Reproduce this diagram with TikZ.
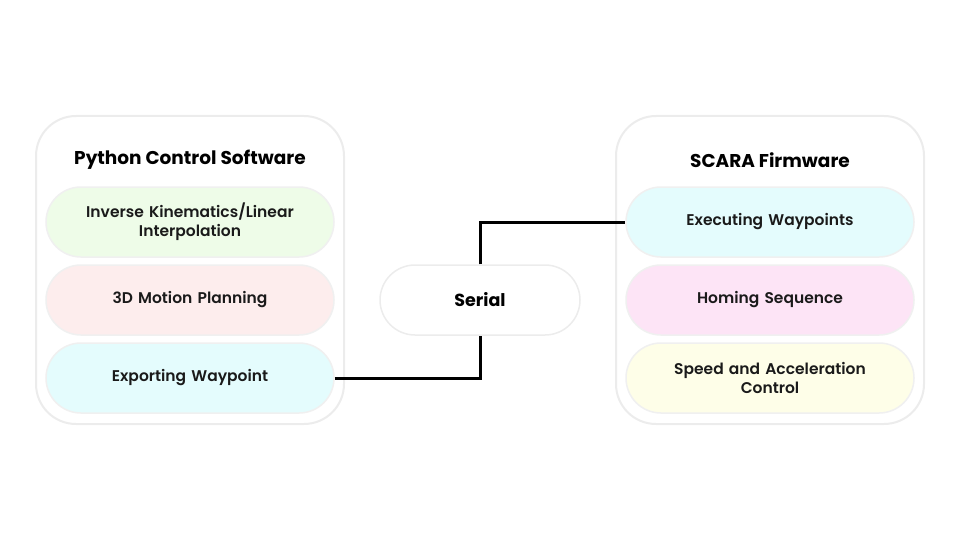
\documentclass[tikz,border=0pt]{standalone}
\usepackage{fontspec}
\setmainfont{Poppins}
\newfontfamily\semifont{Poppins SemiBold}
\newfontfamily\heavyfont{Poppins Bold}
\usetikzlibrary{positioning}
\definecolor{inkText}{HTML}{1A1A1A}
\definecolor{groupEdge}{HTML}{ECECEC}
\definecolor{pillEdge}{HTML}{F0F0F0}
\definecolor{ikGreen}{HTML}{EEFCE8}
\definecolor{planRose}{HTML}{FDEDED}
\definecolor{wpCyan}{HTML}{E4FCFD}
\definecolor{homePink}{HTML}{FDE4F6}
\definecolor{speedCream}{HTML}{FEFEE8}
\begin{document}
\begin{tikzpicture}[x=1pt, y=-1pt,
  group/.style={draw=groupEdge, line width=2pt, fill=white, rounded corners=40pt, minimum width=308pt, minimum height=308pt},
  pill/.style={draw=pillEdge, line width=1.5pt, rounded corners=35pt, minimum width=288pt, minimum height=70pt, text width=260pt, align=center, text=inkText, font=\semifont\fontsize{15.5}{19}\selectfont},
  heading/.style={text=black, font=\heavyfont\fontsize{18.5}{22}\selectfont},
  wire/.style={draw=black, line width=3pt}]
\useasboundingbox (0,0) rectangle (960,540);
% two software blocks
\node[group] (py) at (190,270) {};
\node[group] (fw) at (770,270) {};
\node[heading] (pyTitle) at (190,160) {Python Control Software};
\node[heading] (fwTitle) at (770,160) {SCARA Firmware};
% python side
\node[pill, fill=ikGreen] (ik) at (190,222) {Inverse Kinematics/Linear\\Interpolation};
\node[pill, fill=planRose] (plan) at (190,300) {3D Motion Planning};
\node[pill, fill=wpCyan] (export) at (190,378) {Exporting Waypoint};
% firmware side
\node[pill, fill=wpCyan] (exec) at (770,222) {Executing Waypoints};
\node[pill, fill=homePink] (homing) at (770,300) {Homing Sequence};
\node[pill, fill=speedCream] (speed) at (770,378) {Speed and Acceleration\\Control};
% link
\node[pill, fill=white, draw=groupEdge, minimum width=200pt, text width=170pt, font=\heavyfont\fontsize{17.5}{20}\selectfont, text=black] (serial) at (480,300) {Serial};
\draw[wire] (export.east) -| (serial.south);
\draw[wire] (serial.north) |- (exec.west);
\end{tikzpicture}
\end{document}
